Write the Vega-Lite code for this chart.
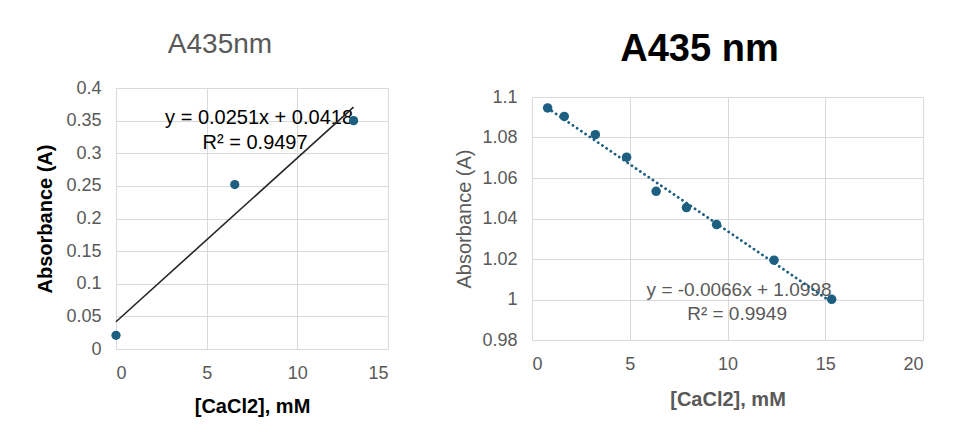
{
  "$schema": "https://vega.github.io/schema/vega-lite/v6.json",
  "background": "white",
  "padding": {"left": 35, "top": 30, "right": 0, "bottom": 0},
  "bounds": "flush",
  "center": true,
  "spacing": 144,
  "config": {
    "font": "Liberation Sans",
    "view": {"stroke": "#d9d9d9", "strokeWidth": 1},
    "axis": {
      "grid": true,
      "gridColor": "#d9d9d9",
      "gridWidth": 1,
      "domain": false,
      "ticks": false,
      "tickSize": 0,
      "labelOverlap": false,
      "labelFont": "Liberation Sans",
      "labelFontSize": 18,
      "labelColor": "#595959",
      "labelPadding": 15,
      "titleFont": "Liberation Sans",
      "titleFontSize": 20
    }
  },
  "datasets": {
    "firstRun": [
      {"conc": 0, "abs": 0.021},
      {"conc": 6.55, "abs": 0.252},
      {"conc": 13.1, "abs": 0.35}
    ],
    "firstFit": [
      {"conc": 0, "abs": 0.0418},
      {"conc": 13.1, "abs": 0.37061}
    ],
    "firstEq": [
      {"eq": "y = 0.0251x + 0.0418", "r2": "R² = 0.9497"}
    ],
    "secondRun": [
      {"conc": 0.8, "abs": 1.0946},
      {"conc": 1.65, "abs": 1.0904},
      {"conc": 3.24, "abs": 1.0814},
      {"conc": 4.84, "abs": 1.0703},
      {"conc": 6.35, "abs": 1.0534},
      {"conc": 7.9, "abs": 1.0454},
      {"conc": 9.44, "abs": 1.037},
      {"conc": 12.38, "abs": 1.0194},
      {"conc": 15.33, "abs": 1.0001}
    ],
    "secondFit": [
      {"conc": 0.8, "abs": 1.09452},
      {"conc": 15.33, "abs": 0.998622}
    ],
    "secondEq": [
      {"eq": "y = -0.0066x + 1.0998", "r2": "R² = 0.9949"}
    ]
  },
  "hconcat": [
    {
      "width": 272,
      "height": 261,
      "title": {
        "text": "A435nm",
        "fontSize": 28,
        "fontWeight": "normal",
        "color": "#595959",
        "anchor": "middle",
        "offset": 20,
        "dx": -32
      },
      "layer": [
        {
          "data": {"name": "firstEq"},
          "mark": {"type": "text", "fontSize": 20, "color": "#000000", "align": "center", "baseline": "middle"},
          "encoding": {
            "x": {
              "datum": 7.89, "type": "quantitative",
              "scale": {"domain": [0, 15], "nice": false},
              "axis": {"values": [0, 5, 10, 15], "title": "[CaCl2], mM", "titleFontWeight": "bold", "titleColor": "#000000", "titlePadding": 14}
            },
            "y": {
              "datum": 0.3545, "type": "quantitative",
              "scale": {"domain": [0, 0.4], "nice": false},
              "axis": {"values": [0, 0.05, 0.1, 0.15, 0.2, 0.25, 0.3, 0.35, 0.4], "format": "~g", "title": "Absorbance (A)", "titleFontWeight": "bold", "titleColor": "#000000", "titlePadding": 10}
            },
            "text": {"field": "eq"}
          }
        },
        {
          "data": {"name": "firstEq"},
          "mark": {"type": "text", "fontSize": 20, "color": "#000000", "align": "center", "baseline": "middle"},
          "encoding": {
            "x": {
              "datum": 7.67, "type": "quantitative",
              "scale": {"domain": [0, 15], "nice": false},
              "axis": {"values": [0, 5, 10, 15], "title": "[CaCl2], mM", "titleFontWeight": "bold", "titleColor": "#000000", "titlePadding": 14}
            },
            "y": {
              "datum": 0.3162, "type": "quantitative",
              "scale": {"domain": [0, 0.4], "nice": false},
              "axis": {"values": [0, 0.05, 0.1, 0.15, 0.2, 0.25, 0.3, 0.35, 0.4], "format": "~g", "title": "Absorbance (A)", "titleFontWeight": "bold", "titleColor": "#000000", "titlePadding": 10}
            },
            "text": {"field": "r2"}
          }
        },
        {
          "data": {"name": "firstFit"},
          "mark": {"type": "line", "color": "#262626", "strokeWidth": 1.6},
          "encoding": {
            "x": {
              "field": "conc", "type": "quantitative",
              "scale": {"domain": [0, 15], "nice": false},
              "axis": {"values": [0, 5, 10, 15], "title": "[CaCl2], mM", "titleFontWeight": "bold", "titleColor": "#000000", "titlePadding": 14}
            },
            "y": {
              "field": "abs", "type": "quantitative",
              "scale": {"domain": [0, 0.4], "nice": false},
              "axis": {"values": [0, 0.05, 0.1, 0.15, 0.2, 0.25, 0.3, 0.35, 0.4], "format": "~g", "title": "Absorbance (A)", "titleFontWeight": "bold", "titleColor": "#000000", "titlePadding": 10}
            }
          }
        },
        {
          "data": {"name": "firstRun"},
          "mark": {"type": "circle", "size": 85, "color": "#1d5f80", "opacity": 1},
          "encoding": {
            "x": {
              "field": "conc", "type": "quantitative",
              "scale": {"domain": [0, 15], "nice": false},
              "axis": {"values": [0, 5, 10, 15], "title": "[CaCl2], mM", "titleFontWeight": "bold", "titleColor": "#000000", "titlePadding": 14}
            },
            "y": {
              "field": "abs", "type": "quantitative",
              "scale": {"domain": [0, 0.4], "nice": false},
              "axis": {"values": [0, 0.05, 0.1, 0.15, 0.2, 0.25, 0.3, 0.35, 0.4], "format": "~g", "title": "Absorbance (A)", "titleFontWeight": "bold", "titleColor": "#000000", "titlePadding": 10}
            }
          }
        }
      ]
    },
    {
      "width": 391,
      "height": 243,
      "title": {
        "text": "A435 nm",
        "fontSize": 38,
        "fontWeight": "bold",
        "color": "#000000",
        "anchor": "middle",
        "offset": 19,
        "dx": -28
      },
      "layer": [
        {
          "data": {"name": "secondEq"},
          "mark": {"type": "text", "fontSize": 19, "color": "#595959", "align": "center", "baseline": "middle"},
          "encoding": {
            "x": {
              "datum": 10.59, "type": "quantitative",
              "scale": {"domain": [0, 20], "nice": false},
              "axis": {"values": [0, 5, 10, 15, 20], "title": "[CaCl2], mM", "titleFontWeight": "bold", "titleColor": "#595959", "titlePadding": 16}
            },
            "y": {
              "datum": 1.0048, "type": "quantitative",
              "scale": {"domain": [0.98, 1.1], "nice": false, "zero": false},
              "axis": {"values": [0.98, 1, 1.02, 1.04, 1.06, 1.08, 1.1], "format": "~g", "title": "Absorbance (A)", "titleFontWeight": "normal", "titleColor": "#595959", "titlePadding": 7}
            },
            "text": {"field": "eq"}
          }
        },
        {
          "data": {"name": "secondEq"},
          "mark": {"type": "text", "fontSize": 19, "color": "#595959", "align": "center", "baseline": "middle"},
          "encoding": {
            "x": {
              "datum": 10.49, "type": "quantitative",
              "scale": {"domain": [0, 20], "nice": false},
              "axis": {"values": [0, 5, 10, 15, 20], "title": "[CaCl2], mM", "titleFontWeight": "bold", "titleColor": "#595959", "titlePadding": 16}
            },
            "y": {
              "datum": 0.993, "type": "quantitative",
              "scale": {"domain": [0.98, 1.1], "nice": false, "zero": false},
              "axis": {"values": [0.98, 1, 1.02, 1.04, 1.06, 1.08, 1.1], "format": "~g", "title": "Absorbance (A)", "titleFontWeight": "normal", "titleColor": "#595959", "titlePadding": 7}
            },
            "text": {"field": "r2"}
          }
        },
        {
          "data": {"name": "secondFit"},
          "mark": {"type": "line", "color": "#1d5f80", "strokeWidth": 2.8, "strokeDash": [0.1, 5], "strokeCap": "round"},
          "encoding": {
            "x": {
              "field": "conc", "type": "quantitative",
              "scale": {"domain": [0, 20], "nice": false},
              "axis": {"values": [0, 5, 10, 15, 20], "title": "[CaCl2], mM", "titleFontWeight": "bold", "titleColor": "#595959", "titlePadding": 16}
            },
            "y": {
              "field": "abs", "type": "quantitative",
              "scale": {"domain": [0.98, 1.1], "nice": false, "zero": false},
              "axis": {"values": [0.98, 1, 1.02, 1.04, 1.06, 1.08, 1.1], "format": "~g", "title": "Absorbance (A)", "titleFontWeight": "normal", "titleColor": "#595959", "titlePadding": 7}
            }
          }
        },
        {
          "data": {"name": "secondRun"},
          "mark": {"type": "circle", "size": 90, "color": "#1d5f80", "opacity": 1},
          "encoding": {
            "x": {
              "field": "conc", "type": "quantitative",
              "scale": {"domain": [0, 20], "nice": false},
              "axis": {"values": [0, 5, 10, 15, 20], "title": "[CaCl2], mM", "titleFontWeight": "bold", "titleColor": "#595959", "titlePadding": 16}
            },
            "y": {
              "field": "abs", "type": "quantitative",
              "scale": {"domain": [0.98, 1.1], "nice": false, "zero": false},
              "axis": {"values": [0.98, 1, 1.02, 1.04, 1.06, 1.08, 1.1], "format": "~g", "title": "Absorbance (A)", "titleFontWeight": "normal", "titleColor": "#595959", "titlePadding": 7}
            }
          }
        }
      ]
    }
  ]
}
